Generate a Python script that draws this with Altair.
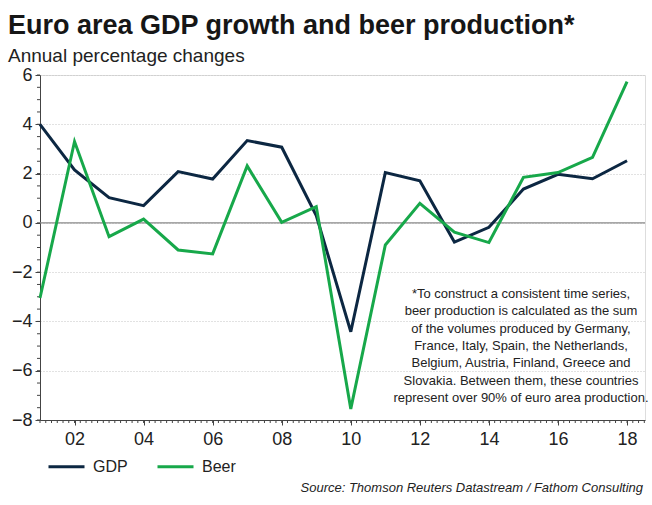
import altair as alt
import pandas as pd

years = list(range(2001, 2019))
gdp = [4.0, 2.15, 1.02, 0.70, 2.08, 1.78, 3.34, 3.07, 0.3, -4.42, 2.04, 1.71, -0.78, -0.18, 1.37, 1.97, 1.79, 2.52]
beer = [-3.05, 3.3, -0.56, 0.15, -1.1, -1.26, 2.31, 0.02, 0.66, -7.55, -0.9, 0.79, -0.38, -0.8, 1.85, 2.04, 2.66, 5.73]
series_names = ["GDP", "Beer"]
series_colors = ["#0c2742", "#17a84a"]
x_major = list(range(2002, 2019, 2))
x_minor = [2001 + i / 6 for i in range(0, 106)]
y_major = list(range(-8, 7, 2))
y_minor = [-8 + i * 0.5 for i in range(0, 29)]
note_lines = [
    "*To construct a consistent time series,",
    "beer production is calculated as the sum",
    "of the volumes produced by Germany,",
    "France, Italy, Spain, the Netherlands,",
    "Belgium, Austria, Finland, Greece and",
    "Slovakia. Between them, these countries",
    "represent over 90% of euro area production.",
]
source_text = "Source: Thomson Reuters Datastream / Fathom Consulting"

FONT = "Liberation Sans"
AXIS_COLOR = "#444"
PLOT_H = 345

df = pd.DataFrame(
    {
        "year": years * 2,
        "value": gdp + beer,
        "series": ["GDP"] * len(years) + ["Beer"] * len(years),
    }
)

xscale = alt.Scale(domain=[2001, 2018.52], nice=False, zero=False)
yscale = alt.Scale(domain=[-8, 6], nice=False, zero=False)

x_axis = alt.Axis(
    orient="bottom", values=x_major, format="d", labelExpr="substring(datum.label, 2)",
    tickSize=5, labelFontSize=18, labelPadding=5, grid=False, title=None, labelFlush=False,
    domainColor=AXIS_COLOR, tickColor=AXIS_COLOR, labelColor="#222", labelFont=FONT,
)
y_axis = alt.Axis(
    orient="left", values=y_major, tickSize=5, labelFontSize=18, labelPadding=3,
    grid=True, gridDash=[1, 2], gridColor="#c4c4c4", title=None, labelFlush=False,
    domainColor=AXIS_COLOR, tickColor=AXIS_COLOR, labelColor="#222", labelFont=FONT,
)

zero = (
    alt.Chart(pd.DataFrame({"y": [0]}))
    .mark_rule(color="#8a8a8a", strokeWidth=1.3)
    .encode(y=alt.Y("y:Q", scale=yscale, axis=y_axis))
)

x_minor_ticks = (
    alt.Chart(pd.DataFrame({"xm": x_minor}))
    .mark_rule(color=AXIS_COLOR, strokeWidth=1)
    .encode(
        x=alt.X("xm:Q", scale=xscale, axis=x_axis),
        y=alt.value(PLOT_H),
        y2=alt.value(PLOT_H + 3),
    )
)

y_minor_ticks = (
    alt.Chart(pd.DataFrame({"ym": y_minor}))
    .mark_rule(color=AXIS_COLOR, strokeWidth=1)
    .encode(
        y=alt.Y("ym:Q", scale=yscale, axis=y_axis),
        x=alt.value(-3),
        x2=alt.value(0),
    )
)

lines = (
    alt.Chart(df)
    .mark_line(strokeWidth=3)
    .encode(
        x=alt.X("year:Q", scale=xscale, axis=x_axis),
        y=alt.Y("value:Q", scale=yscale, axis=y_axis),
        color=alt.Color(
            "series:N",
            scale=alt.Scale(domain=series_names, range=series_colors),
            sort=series_names,
            legend=alt.Legend(
                orient="none", legendX=7, legendY=372, direction="horizontal", title=None,
                symbolType="stroke", symbolSize=1296, symbolStrokeWidth=3,
                labelFontSize=16, labelFont=FONT, labelColor="#222", labelOffset=7,
                columnPadding=23,
            ),
        ),
    )
)

note = (
    alt.Chart(pd.DataFrame({"t": ["\n".join(note_lines)]}))
    .mark_text(
        align="center", baseline="middle", lineBreak="\n", lineHeight=17.3,
        fontSize=13, font=FONT, color="#222",
    )
    .encode(text="t:N", x=alt.value(481), y=alt.value(219))
)

source = (
    alt.Chart(pd.DataFrame({"t": [source_text]}))
    .mark_text(align="right", baseline="middle", fontSize=13, fontStyle="italic", font=FONT, color="#222")
    .encode(text="t:N", x=alt.value(603), y=alt.value(413))
)

chart = (
    alt.layer(zero, x_minor_ticks, y_minor_ticks, lines, note, source)
    .properties(
        width=605,
        height=PLOT_H,
        autosize=alt.AutoSizeParams(type="none"),
        padding={"left": 40, "top": 75, "right": 7, "bottom": 85},
        title=alt.TitleParams(
            text="Euro area GDP growth and beer production*",
            subtitle="Annual percentage changes",
            anchor="start", frame="group", dx=-32, offset=-1,
            font=FONT, fontSize=27, fontWeight="bold", color="#161616",
            subtitleFont=FONT, subtitleFontSize=19, subtitleColor="#222", subtitlePadding=7,
        ),
    )
    .configure_view(stroke=None)
    .configure(background="white")
)

chart.save("out.html", embed_options={"renderer": "svg", "actions": False})
